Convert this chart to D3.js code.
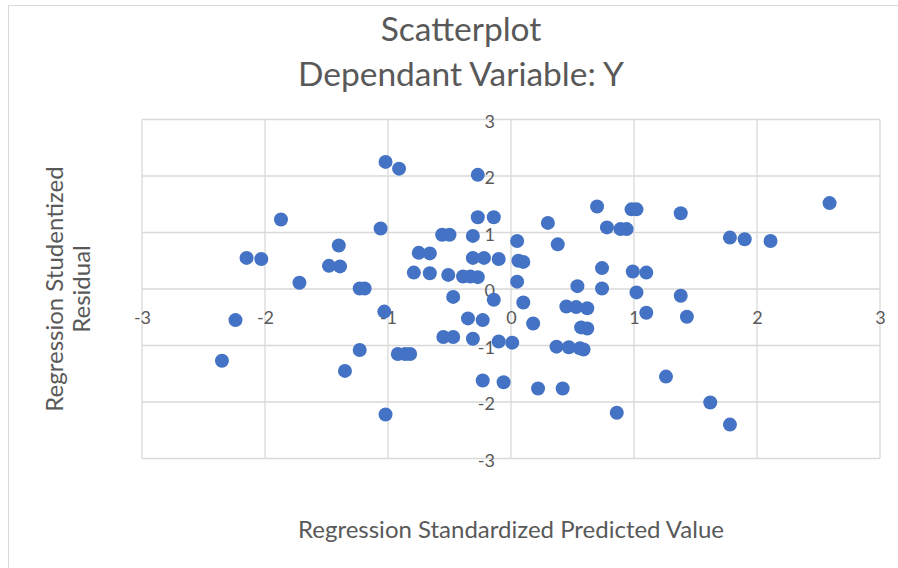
<!DOCTYPE html>
<html>
<head>
<meta charset="utf-8">
<script src="https://cdn.jsdelivr.net/npm/d3@7"></script>
<style>
  html, body { margin: 0; padding: 0; background: #fff; }
  svg { display: block; font-family: Lato, "Open Sans", sans-serif; }
</style>
</head>
<body>
<div id="app"></div>
<script>
// standardized predicted values (x) and studentized residuals (y)
const predicted = [
  -1.02, -0.91, -0.27, -0.27, -0.14, -1.06, -0.56, -0.50, -0.31, 0.05,
  0.30, 0.38, 0.70, 0.78, 0.89, 0.94, 0.98, 1.02, 1.38, 1.78,
  1.90, 2.11, 2.59, -1.87, -1.40, -2.15, -2.03, -1.48, -1.39, -1.72,
  -1.23, -1.19, -0.75, -0.66, -0.31, -0.22, -0.10, 0.06, 0.10, -0.79,
  -0.66, -0.51, -0.39, -0.33, -0.27, 0.05, 0.74, 0.99, 1.10, 0.54,
  0.74, 1.02, 1.38, 1.10, 1.43, 1.26, 1.62, 1.78, -0.47, -0.14,
  0.10, -0.35, -0.23, 0.18, 0.45, 0.53, 0.62, 0.57, 0.62, -0.55,
  -0.47, -0.31, -0.10, 0.01, 0.37, 0.47, 0.56, 0.59, -0.92, -0.86,
  -0.82, -0.23, -0.06, 0.22, 0.42, 0.86, -1.02, -1.03, -2.24, -2.35,
  -1.23, -1.35
];
const residual = [
  2.25, 2.13, 2.02, 1.27, 1.27, 1.07, 0.96, 0.96, 0.94, 0.85,
  1.17, 0.79, 1.46, 1.09, 1.06, 1.06, 1.41, 1.41, 1.34, 0.91,
  0.88, 0.85, 1.52, 1.23, 0.77, 0.55, 0.53, 0.41, 0.40, 0.11,
  0.01, 0.01, 0.64, 0.63, 0.55, 0.55, 0.53, 0.50, 0.48, 0.29,
  0.28, 0.25, 0.22, 0.22, 0.21, 0.13, 0.37, 0.31, 0.29, 0.05,
  0.01, -0.06, -0.12, -0.42, -0.49, -1.55, -2.01, -2.40, -0.14, -0.19,
  -0.24, -0.52, -0.55, -0.61, -0.31, -0.32, -0.34, -0.68, -0.70, -0.85,
  -0.85, -0.88, -0.93, -0.95, -1.02, -1.03, -1.05, -1.07, -1.15, -1.15,
  -1.15, -1.62, -1.65, -1.76, -1.76, -2.19, -2.22, -0.40, -0.55, -1.27,
  -1.08, -1.45
];
const xTicks = [-3, -2, -1, 0, 1, 2, 3];
const yTicks = [-3, -2, -1, 0, 1, 2, 3];
const titleLines = ['Scatterplot', 'Dependant Variable: Y'];
const xTitle = 'Regression Standardized Predicted Value';
const yTitleLines = ['Regression Studentized', 'Residual'];

const width = 898;
const height = 568;
const plot = { left: 142, right: 880, top: 119.5, bottom: 458.5 };
const gridColor = '#d9d9d9';
const textColor = '#595959';

const points = predicted.map((d, i) => ({ x: d, y: residual[i] }));

const x = d3.scaleLinear().domain([-3, 3]).range([plot.left, plot.right]);
const y = d3.scaleLinear().domain([-3, 3]).range([plot.bottom, plot.top]);

const svg = d3.select('#app')
  .append('svg')
  .attr('width', width)
  .attr('height', height);

// chart area outline
svg.append('rect')
  .attr('x', 8.5)
  .attr('y', 5.5)
  .attr('width', width + 10)
  .attr('height', height + 10)
  .attr('fill', '#fff')
  .attr('stroke', '#d9d9d9');

// gridlines
svg.append('g')
  .selectAll('line')
  .data(xTicks)
  .join('line')
  .attr('x1', (d) => x(d))
  .attr('x2', (d) => x(d))
  .attr('y1', plot.top)
  .attr('y2', plot.bottom)
  .attr('stroke', gridColor)
  .attr('stroke-width', 1.3);

svg.append('g')
  .selectAll('line')
  .data(yTicks)
  .join('line')
  .attr('x1', plot.left)
  .attr('x2', plot.right)
  .attr('y1', (d) => y(d))
  .attr('y2', (d) => y(d))
  .attr('stroke', gridColor)
  .attr('stroke-width', 1.3);

// tick labels, axes cross at zero
const xAxis = svg.append('g')
  .attr('transform', `translate(0,${y(0)})`)
  .call(d3.axisBottom(x).tickValues(xTicks).tickSize(0).tickPadding(22).tickFormat((d) => String(d)));

const yAxis = svg.append('g')
  .attr('transform', `translate(${x(0)},0)`)
  .call(d3.axisLeft(y).tickValues(yTicks).tickSize(0).tickPadding(16).tickFormat((d) => String(d)));

[xAxis, yAxis].forEach((g) => {
  g.select('.domain').remove();
  g.selectAll('text')
    .attr('fill', textColor)
    .style('font-size', '18px')
    .style('font-family', 'Lato, "Open Sans", sans-serif');
});
yAxis.selectAll('text').attr('dy', '0.42em');

// points
svg.append('g')
  .selectAll('circle')
  .data(points)
  .join('circle')
  .attr('cx', (d) => x(d.x))
  .attr('cy', (d) => y(d.y))
  .attr('r', 7)
  .attr('fill', '#4472c4');

// titles
svg.append('g')
  .selectAll('text')
  .data(titleLines)
  .join('text')
  .attr('x', 461)
  .attr('y', (d, i) => 41 + i * 45)
  .attr('text-anchor', 'middle')
  .attr('fill', textColor)
  .style('font-size', '33.5px')
  .text((d) => d);

svg.append('text')
  .attr('x', 511)
  .attr('y', 538)
  .attr('text-anchor', 'middle')
  .attr('fill', textColor)
  .style('font-size', '24px')
  .text(xTitle);

svg.append('g')
  .selectAll('text')
  .data(yTitleLines)
  .join('text')
  .attr('transform', (d, i) => `translate(${63 + i * 27},${(plot.top + plot.bottom) / 2}) rotate(-90)`)
  .attr('text-anchor', 'middle')
  .attr('fill', textColor)
  .style('font-size', '24px')
  .text((d) => d);
</script>
</body>
</html>
